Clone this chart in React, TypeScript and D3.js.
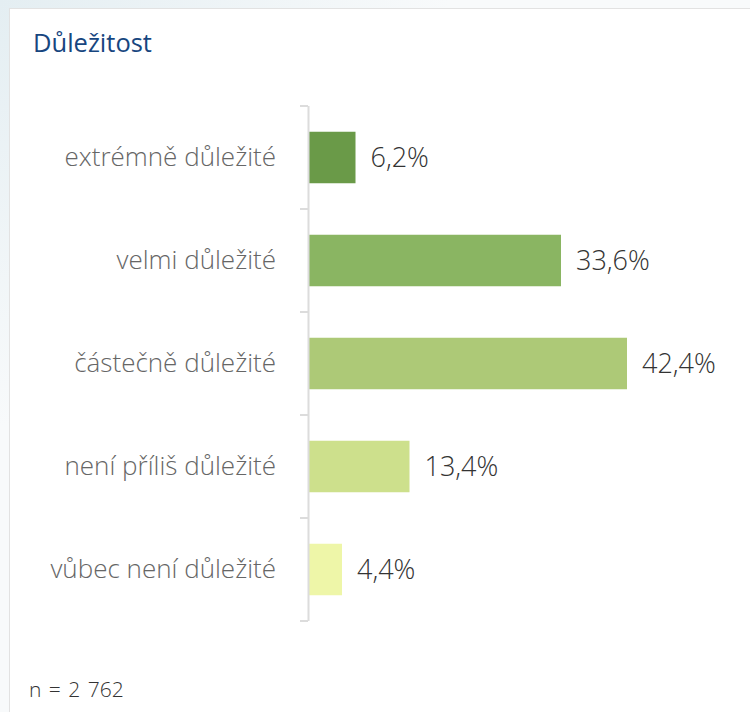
import { useEffect, useRef } from 'react'
import * as d3 from 'd3'

const categories = [
  'extrémně důležité',
  'velmi důležité',
  'částečně důležité',
  'není příliš důležité',
  'vůbec není důležité',
]
const values = [6.2, 33.6, 42.4, 13.4, 4.4]
const colors = ['#6a9a48', '#8ab562', '#adc977', '#cde08c', '#eef6a8']
const title = 'Důležitost'
const footnote = 'n = 2 762'

const fmt = (v: number) => v.toFixed(1).replace('.', ',') + '%'

const App = () => {
  const svgRef = useRef<SVGSVGElement>(null)

  useEffect(() => {
    if (!svgRef.current) return
    const width = 750
    const height = 712
    const font = '"Open Sans", "Noto Sans", sans-serif'

    const svg = d3.select(svgRef.current)
    svg.selectAll('*').remove()
    svg.attr('width', width).attr('height', height)

    // page background + card
    const grad = svg.append('defs').append('radialGradient')
      .attr('id', 'bg').attr('cx', 0).attr('cy', 0).attr('r', 0.6)
    grad.append('stop').attr('offset', 0).attr('stop-color', '#e4eef2')
    grad.append('stop').attr('offset', 1).attr('stop-color', '#f8fafb')
    svg.append('rect').attr('width', width).attr('height', height).attr('fill', 'url(#bg)')
    svg.append('rect')
      .attr('x', 9.5).attr('y', 8.5)
      .attr('width', width).attr('height', height)
      .attr('fill', '#fff')
      .attr('stroke', '#e2e2e2')

    svg.append('text')
      .attr('x', 33).attr('y', 52)
      .attr('fill', '#17467f')
      .attr('font-family', font)
      .attr('font-size', 25.5)
      .text(title)

    const x0 = 308
    const y = d3.scaleBand()
      .domain(categories)
      .range([106, 621])
      .paddingInner(0.5)
      .paddingOuter(0.25)

    const x = d3.scaleLinear().domain([0, 42.4]).range([x0, 626])

    const g = svg.append('g')

    g.selectAll('rect.bar')
      .data(values)
      .enter()
      .append('rect')
      .attr('class', 'bar')
      .attr('x', x0 + 1)
      .attr('y', (d, i) => y(categories[i])!)
      .attr('width', d => x(d) - x0)
      .attr('height', y.bandwidth())
      .attr('fill', (d, i) => colors[i])

    g.selectAll('text.val')
      .data(values)
      .enter()
      .append('text')
      .attr('class', 'val')
      .attr('x', d => x(d) + 16)
      .attr('y', (d, i) => y(categories[i])! + y.bandwidth() / 2)
      .attr('dy', '0.35em')
      .attr('fill', '#333')
      .attr('font-family', font)
      .attr('font-weight', 300)
      .attr('font-size', 27)
      .text(d => fmt(d))

    // axis
    const axis = d3.axisLeft(y).tickSize(0).tickPadding(32)
    const ag = svg.append('g').attr('transform', `translate(${x0},0)`).call(axis)
    ag.select('.domain').remove()
    ag.selectAll('text')
      .attr('fill', '#666')
      .attr('font-family', font)
      .attr('font-weight', 300)
      .attr('font-size', 26)

    // band separators
    const step = y.step()
    const bounds = d3.range(categories.length + 1).map(i => 106 + i * step)
    ag.append('line')
      .attr('x1', 0.5).attr('x2', 0.5)
      .attr('y1', bounds[0]).attr('y2', bounds[bounds.length - 1])
      .attr('stroke', '#dcdcdc').attr('stroke-width', 2)
    ag.selectAll('line.sep')
      .data(bounds)
      .enter()
      .append('line')
      .attr('class', 'sep')
      .attr('x1', -8).attr('x2', 0)
      .attr('y1', d => d).attr('y2', d => d)
      .attr('stroke', '#dcdcdc').attr('stroke-width', 2)

    svg.append('text')
      .attr('x', 29).attr('y', 697)
      .attr('fill', '#333')
      .attr('font-family', font)
      .attr('font-weight', 300)
      .attr('font-size', 21)
      .attr('word-spacing', 2)
      .text(footnote)
  }, [])

  return (
    <div style={{ position: 'fixed', left: 0, top: 0 }}>
      <svg ref={svgRef} style={{ display: 'block' }}></svg>
    </div>
  )
}

export default App
